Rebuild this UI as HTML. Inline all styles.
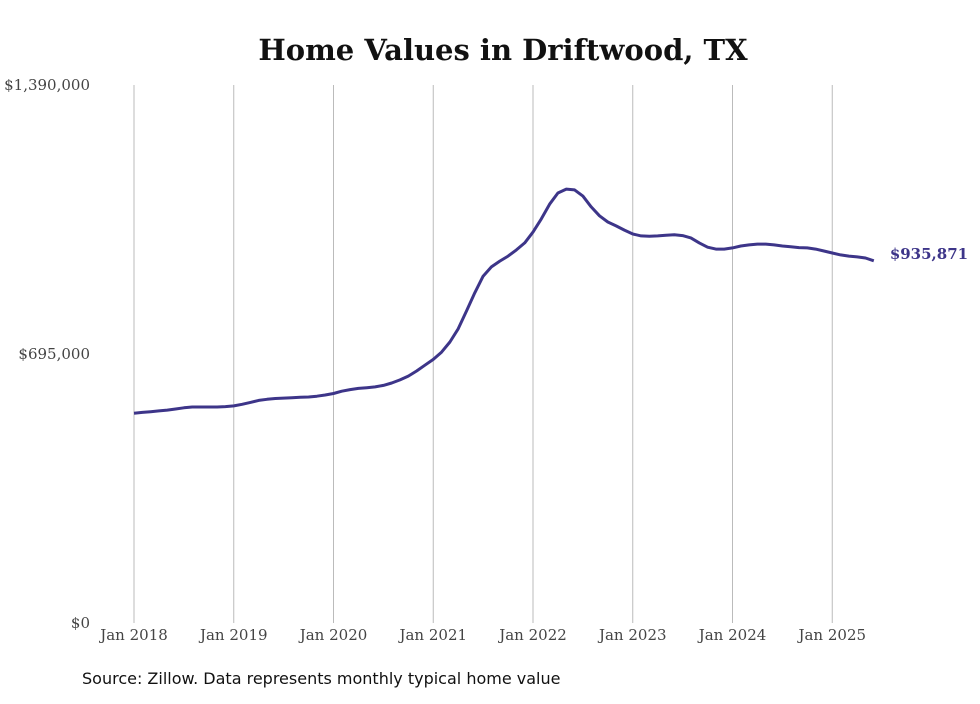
<!DOCTYPE html>
<html><head><meta charset="utf-8"><style>
body{margin:0;background:#fff;width:980px;height:699px;overflow:hidden}
svg text{font-family:"DejaVu Serif","Liberation Serif",serif}
</style></head><body>
<svg width="980" height="699">
<text x="503" y="60" text-anchor="middle" font-size="29" font-weight="bold" fill="#111">Home Values in Driftwood, TX</text>
<g id="grid"></g><g id="yaxis"></g><g id="xaxis"></g><g id="series"></g>
<text x="82" y="684" font-size="16" fill="#111" style="font-family:'DejaVu Sans',sans-serif">Source: Zillow. Data represents monthly typical home value</text>
</svg>
<script>
const yTicks=[0,695000,1390000];
const yTickLabels=["$0","$695,000","$1,390,000"];
const xYears=[2018,2019,2020,2021,2022,2023,2024,2025];
const values=[542,544,546,548,550,553,556,558,558,558,558,559,
561,565,570,575,578,580,581,582,583,584,586,589,
593,599,603,606,608,610,614,620,628,638,651,666,
681,700,726,760,806,853,896,920,935,948,964,982,
1010,1044,1082,1111,1121,1119,1103,1075,1052,1036,1026,1015,
1005,1000,999,1000,1002,1003,1001,995,982,971,966,966,
969,974,977,979,979,977,974,972,970,969,966,961,
956,951,948,946,943,935.871].map(v=>v*1000);
const endLabel="$935,871";
const NS="http://www.w3.org/2000/svg";
const y0=623,y1=85,x0=134,yearW=99.75;
const ys=v=>y0-(v/1390000)*(y0-y1);
const xs=m=>x0+m*yearW/12;
function mk(t,a,p){const e=document.createElementNS(NS,t);for(const k in a)e.setAttribute(k,a[k]);p.appendChild(e);return e;}
const grid=document.getElementById('grid'),ya=document.getElementById('yaxis'),xa=document.getElementById('xaxis'),se=document.getElementById('series');
xYears.forEach((yr,i)=>{
 const x=xs(i*12);
 const l=mk('line',{x1:x,x2:x,y1:y1,y2:y0,stroke:'#bbb','stroke-width':1},grid);
 
 
 const t=mk('text',{x:x,y:y0+17,'text-anchor':'middle','font-size':15,fill:'#444'},xa);
 t.textContent='Jan '+yr;
 
 
});
yTicks.forEach((v,i)=>{
 const t=mk('text',{x:90,y:ys(v)+5,'text-anchor':'end','font-size':15,fill:'#444'},ya);
 t.textContent=yTickLabels[i];
 
 
});
const d=values.map((v,i)=>(i?'L':'M')+xs(i).toFixed(1)+','+ys(v).toFixed(1)).join(' ');
const p=mk('path',{d:d,fill:'none',stroke:'#3d3589','stroke-width':3,'stroke-linejoin':'round'},se);


const last=values.length-1;
const el=mk('text',{x:xs(last)+16,y:ys(values[last])-2,'font-size':15,'font-weight':'bold',fill:'#3d3589'},se);
el.textContent=endLabel;


</script>
</body></html>
